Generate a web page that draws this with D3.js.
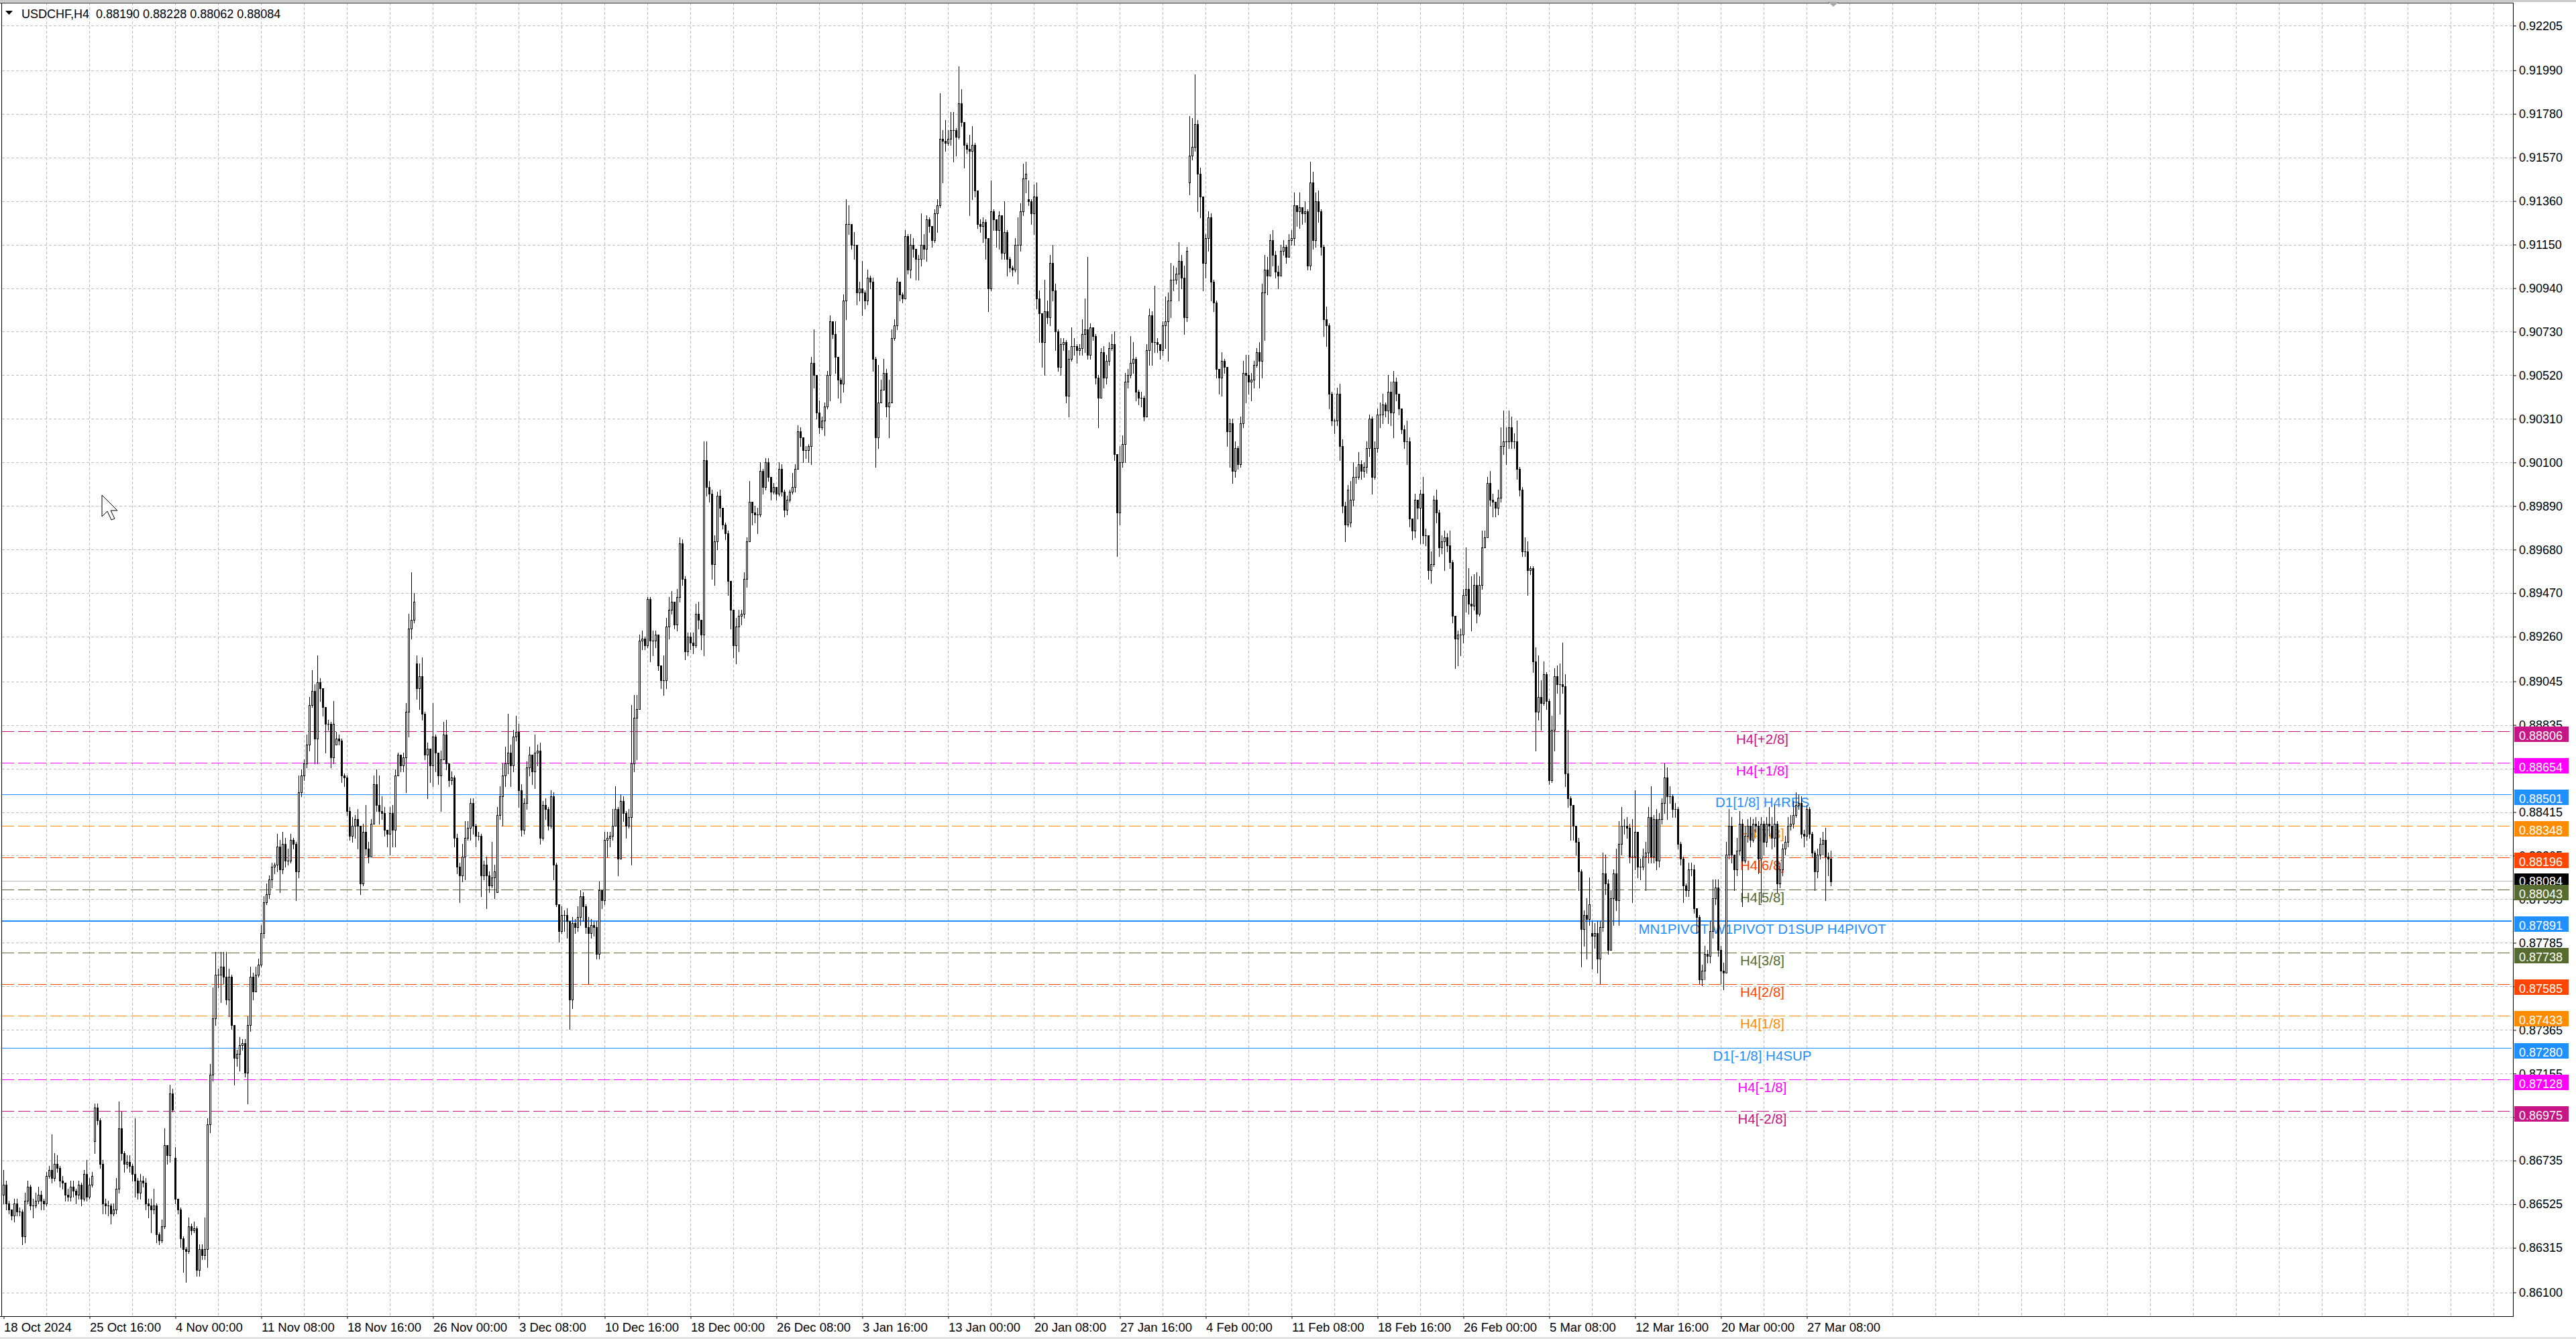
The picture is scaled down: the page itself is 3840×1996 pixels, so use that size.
<!DOCTYPE html>
<html>
<head>
<meta charset="utf-8">
<script src="https://cdn.jsdelivr.net/npm/d3@7/dist/d3.min.js"></script>
<style>
  html, body { margin: 0; padding: 0; background: #fff; }
  svg { display: block; }
</style>
</head>
<body>
<script>
// USDCHF H4 candles. Each bar is [high, low, close] in pips above BASE.
// Open = previous close, except the bars listed in gapOpens.
const BASE = 0.86, PIP = 0.0001;

const oct18 = [
  [69,53,62],[64,50,53],[54,48,50],[50,45,47],[55,44,53],[55,47,49],[51,47,49],[50,33,37],
  [58,34,54],[64,53,61],[62,50,52],[55,46,52],[58,51,54],[61,53,57],[59,50,54],[55,50,53],
  [68,52,66],[71,65,69],[86,63,65],[77,64,72],[76,68,70],[71,61,64],[66,60,63],[63,54,57],
  [60,54,56],[64,54,61],[64,56,59],[60,53,57],[64,55,62],[63,52,55],[69,54,67],[74,54,56]];
const oct25 = [
  [65,55,62],[68,61,66],[101,77,99],[101,91,93],[94,70,72],[74,48,53],[55,48,52],[54,47,52],
  [53,43,48],[53,47,50],[65,48,60],[102,58,89],[97,74,77],[78,68,72],[76,70,73],[76,68,71],
  [72,64,67],[94,56,64],[65,55,58],[67,55,64],[66,61,63],[65,50,53],[55,46,52],[55,39,50],
  [60,48,52],[53,34,38],[39,33,35],[45,34,42],[89,41,81],[81,72,76],[110,73,106],[108,97,98]];
const nov04 = [
  [80,53,55],[55,48,50],[51,32,36],[37,20,31],[32,15,30],[46,29,42],[43,38,40],[44,39,41],
  [42,18,21],[33,18,31],[33,26,28],[46,26,31],[94,22,91],[120,87,115],[157,112,142],[174,139,163],
  [166,157,163],[174,150,167],[174,159,162],[174,149,151],[166,143,162],[163,137,139],[139,110,123],[127,119,125],
  [133,117,129],[132,127,130],[132,114,116],[143,101,139],[167,136,162],[164,151,155],[167,159,163],[171,162,168]];
const nov11 = [
  [187,167,183],[201,181,198],[207,197,202],[211,200,209],[217,205,215],[217,212,216],[231,213,225],[228,203,214],
  [232,212,226],[229,215,218],[224,216,218],[231,217,228],[229,224,226],[227,199,213],[259,210,251],[262,249,259],
  [267,257,265],[279,263,274],[297,271,293],[310,292,300],[303,265,277],[317,265,304],[306,295,301],[301,288,292],
  [292,270,284],[286,281,284],[285,263,268],[295,265,284],[280,274,277],[279,274,276],[277,256,259],[260,254,258]];
const nov18 = [
  [259,240,242],[244,228,230],[239,227,235],[240,229,238],[243,224,235],[235,202,207],[236,206,232],[245,221,224],
  [227,217,220],[238,225,236],[259,236,255],[262,242,245],[259,236,242],[249,238,241],[244,230,233],[233,225,231],
  [244,221,241],[245,225,233],[262,225,259],[270,259,269],[269,261,264],[270,261,268],[294,251,290],[337,278,330],
  [357,325,334],[347,333,343],[317,296,301],[313,291,307],[316,286,289],[290,267,269],[275,248,272],[271,256,264]];
const nov26 = [
  [294,254,278],[279,261,270],[269,255,259],[271,242,267],[285,267,279],[286,262,265],[265,254,257],[261,255,258],
  [259,225,229],[231,212,215],[217,198,211],[226,208,220],[237,209,229],[237,228,234],[248,228,246],[248,231,235],
  [236,225,230],[232,228,230],[231,201,211],[218,209,216],[220,195,211],[213,203,206],[227,205,210],[216,200,213],
  [244,203,240],[254,238,249],[265,235,259],[273,254,265],[289,260,270],[274,254,264],[281,261,278],[288,276,280]];
const dec03 = [
  [284,244,252],[255,230,233],[248,231,246],[266,243,263],[273,259,269],[269,255,261],[279,253,270],[274,264,271],
  [275,226,229],[247,228,245],[248,238,243],[244,233,235],[252,234,249],[251,209,216],[217,196,197],[197,179,184],
  [196,183,192],[194,184,192],[195,181,189],[189,137,151],[191,147,188],[190,183,186],[196,184,191],[204,187,201],
  [203,189,196],[197,183,186],[191,159,183],[190,181,187],[189,182,186],[189,171,173],[208,171,204],[204,195,199]];
const dec10 = [
  [232,197,228],[232,220,229],[232,225,230],[243,228,235],[254,237,243],[244,211,219],[250,219,247],[249,237,241],
  [242,229,235],[243,234,239],[293,216,265],[298,261,287],[298,267,291],[327,291,324],[329,320,325],[326,320,322],
  [345,321,344],[345,314,324],[329,317,324],[329,321,327],[326,310,312],[312,301,305],[317,298,305],[335,301,331],
  [345,325,339],[348,337,343],[340,330,332],[349,329,345],[374,343,371],[373,351,354],[355,315,319],[328,317,326]];
const dec18 = [
  [328,320,323],[328,318,322],[342,321,337],[343,330,334],[332,320,327],[420,317,411],[420,394,398],[401,391,395],
  [397,354,361],[375,351,372],[396,368,394],[397,384,388],[385,378,380],[381,373,376],[377,346,353],[353,330,339],
  [339,316,322],[335,313,331],[339,319,336],[339,332,337],[357,335,354],[374,350,372],[401,372,391],[391,380,386],
  [389,381,385],[388,376,385],[410,384,406],[407,395,398],[412,397,410],[412,401,403],[399,392,396],[400,395,398]];
const dec26 = [
  [398,392,395],[410,394,407],[409,394,396],[397,384,387],[394,385,392],[397,391,396],[405,395,398],[409,396,407],
  [428,407,425],[427,418,422],[419,410,416],[418,412,416],[419,410,418],[461,409,458],[474,446,452],[451,431,434],
  [440,424,427],[432,426,430],[439,423,437],[454,436,452],[481,440,478],[478,470,472],[478,453,461],[461,441,450],
  [451,439,448],[491,444,488],[537,479,525],[534,520,525],[524,513,515],[521,508,515],[515,486,492],[497,488,494]];
const jan03 = [
  [507,481,492],[493,484,488],[503,486,499],[500,494,497],[499,454,460],[461,408,422],[457,417,439],[450,439,445],
  [460,445,453],[455,432,437],[450,422,439],[474,439,470],[479,469,476],[499,474,497],[497,488,491],[492,487,489],
  [522,489,519],[520,501,503],[520,499,515],[518,509,513],[512,498,508],[510,498,508],[530,505,515],[520,508,513],
  [529,507,527],[528,521,524],[521,514,517],[532,516,530],[537,521,534],[588,533,566],[570,545,565],[575,560,564]];
const jan13 = [
  [570,563,566],[579,563,570],[579,555,570],[571,558,567],[601,566,583],[590,572,574],[570,552,563],[564,559,561],
  [568,529,560],[572,537,563],[564,538,541],[541,523,525],[527,521,524],[528,516,526],[527,508,518],[518,483,494],
  [546,493,531],[532,522,527],[527,514,522],[531,513,529],[529,508,511],[536,508,521],[522,500,508],[509,502,504],
  [505,500,503],[518,502,515],[528,496,515],[535,512,531],[554,529,547],[555,540,549],[546,534,536],[537,525,530]];
const jan20 = [
  [544,520,538],[545,484,489],[493,468,482],[482,456,468],[498,452,483],[488,477,480],[510,476,506],[515,488,493],
  [496,464,473],[474,454,456],[470,452,467],[470,464,468],[469,439,442],[464,432,460],[475,459,466],[470,462,466],
  [467,458,464],[467,462,465],[479,462,472],[489,463,474],[509,460,462],[477,460,475],[475,469,471],[472,448,451],
  [452,427,441],[465,441,463],[466,446,451],[462,448,459],[468,457,465],[472,464,467],[473,411,414],[414,365,386]];
const jan27 = [
  [418,380,410],[423,408,419],[453,410,449],[455,446,452],[471,451,458],[468,453,460],[461,440,444],[445,438,441],
  [444,437,441],[442,430,432],[467,432,464],[484,457,481],[483,457,468],[495,463,468],[470,463,467],[467,460,464],
  [478,462,476],[490,465,478],[492,459,488],[506,480,498],[505,493,498],[504,496,501],[516,488,507],[510,494,499],
  [505,472,480],[514,478,512],[577,539,558],[576,556,562],[597,560,573],[575,531,549],[552,528,538],[538,493,506]];
const feb04 = [
  [520,499,518],[531,512,528],[530,488,497],[498,483,487],[488,451,455],[455,443,451],[463,442,459],[460,453,456],
  [456,418,425],[431,408,429],[431,400,406],[420,403,417],[418,407,409],[432,408,429],[459,427,453],[462,439,452],
  [462,443,449],[453,440,450],[459,446,457],[465,456,463],[468,446,459],[496,451,492],[510,469,503],[509,491,500],
  [520,502,517],[522,505,510],[512,499,502],[505,494,500],[515,500,512],[517,510,514],[515,506,509],[520,512,517]];
const feb11 = [
  [522,515,518],[540,515,534],[534,524,531],[540,523,533],[533,525,530],[536,526,531],[532,503,505],[555,503,545],
  [550,513,517],[540,514,536],[541,526,531],[532,510,514],[515,471,479],[485,466,476],[477,436,443],[444,428,430],
  [431,424,430],[446,428,443],[448,411,418],[421,386,389],[391,372,380],[399,379,397],[401,379,392],[410,389,403],
  [408,400,403],[415,402,409],[411,402,406],[410,403,408],[420,405,417],[433,413,431],[432,395,403],[420,402,417]];
const feb18 = [
  [436,415,433],[439,427,433],[443,429,438],[439,432,435],[452,429,444],[449,428,434],[454,422,449],[451,440,443],
  [443,433,436],[436,424,426],[428,417,420],[430,409,420],[422,379,383],[383,373,377],[395,374,392],[392,383,388],
  [397,371,395],[403,371,375],[378,370,375],[373,354,358],[367,352,361],[394,360,392],[397,381,386],[387,365,369],
  [375,366,372],[377,358,374],[376,367,370],[377,359,362],[363,333,336],[336,311,325],[329,312,327],[330,317,327]];
const feb26 = [
  [349,323,346],[369,338,349],[359,337,342],[355,329,341],[356,339,351],[357,333,337],[355,336,351],[377,349,369],
  [377,369,374],[403,374,400],[406,389,392],[395,384,391],[391,384,388],[397,385,393],[427,391,418],[435,414,420],
  [427,409,420],[435,417,427],[432,417,420],[424,417,420],[430,402,407],[408,394,397],[398,365,367],[374,365,367],
  [372,346,358],[360,356,359],[360,309,314],[321,271,290],[317,286,297],[305,281,294],[314,293,308],[309,291,295]];
const mar05 = [
  [296,255,257],[288,256,281],[311,271,307],[312,299,303],[313,289,303],[323,299,302],[308,254,260],[281,244,248],
  [249,228,245],[245,228,235],[235,221,227],[229,204,213],[214,167,185],[194,177,192],[200,171,190],[210,187,197],
  [189,166,182],[188,176,183],[189,164,171],[189,159,186],[222,184,212],[221,202,207],[209,173,175],[204,175,200],
  [214,187,212],[224,194,199],[237,187,226],[244,221,235],[238,231,235],[239,229,234],[236,217,220],[238,198,220]];
const mar12 = [
  [252,214,232],[230,210,215],[219,209,215],[224,214,220],[227,204,222],[244,217,239],[254,217,220],[240,217,238],
  [243,214,218],[241,215,238],[248,236,246],[265,241,258],[263,238,249],[254,246,249],[250,239,243],[246,239,243],
  [244,224,226],[227,216,219],[220,198,206],[207,201,204],[217,201,214],[217,211,214],[216,193,195],[195,183,191],
  [192,159,161],[168,158,165],[177,161,173],[175,169,172],[189,169,184],[209,181,200],[209,197,205],[209,172,175]];
const mar20 = [
  [177,159,165],[169,156,164],[227,164,221],[243,219,235],[239,217,221],[221,204,214],[229,211,223],[242,221,236],
  [238,196,218],[235,217,230],[238,227,235],[239,225,228],[238,227,236],[239,232,235],[237,212,219],[239,198,236],
  [237,221,227],[239,225,236],[244,230,235],[239,224,229],[245,225,236],[237,203,207],[217,205,214],[226,211,224],
  [230,221,227],[239,225,235],[240,233,236],[247,234,240],[251,239,245],[250,243,246],[249,229,231],[233,225,230]];
const mar27 = [
  [245,228,243],[244,229,231],[232,220,222],[223,204,213],[224,210,221],[229,219,226],[232,221,228],[234,199,220],
  [222,211,219],[223,206,208]];

// bars whose open is not the previous close (first bar, weekend gaps): [bar, open pips]
const gapOpens = [[0,57],[34,83],[64,75],[124,274],[154,313],[184,203],[382,537],[442,545],[502,381],[592,183]];

const timeLabels = ["18 Oct 2024","25 Oct 16:00","4 Nov 00:00","11 Nov 08:00","18 Nov 16:00","26 Nov 00:00",
  "3 Dec 08:00","10 Dec 16:00","18 Dec 00:00","26 Dec 08:00","3 Jan 16:00","13 Jan 00:00","20 Jan 08:00",
  "27 Jan 16:00","4 Feb 00:00","11 Feb 08:00","18 Feb 16:00","26 Feb 00:00","5 Mar 08:00","12 Mar 16:00",
  "20 Mar 00:00","27 Mar 08:00"];

const priceTicks = ["0.92205","0.91990","0.91780","0.91570","0.91360","0.91150","0.90940","0.90730","0.90520",
  "0.90310","0.90100","0.89890","0.89680","0.89470","0.89260","0.89045","0.88835","0.88625","0.88415","0.88205",
  "0.87995","0.87785","0.87575","0.87365","0.87155","0.86945","0.86735","0.86525","0.86315","0.86100"];

const levelPrices = [0.88806,0.88654,0.88501,0.88348,0.88196,0.88043,0.87891,0.87738,0.87585,0.87433,0.87280,0.87128,0.86975];
const levelTexts = ["H4[+2/8]","H4[+1/8]","D1[1/8] H4RES","H4[7/8]","H4[6/8]","H4[5/8]",
  "MN1PIVOT W1PIVOT D1SUP H4PIVOT","H4[3/8]","H4[2/8]","H4[1/8]","D1[-1/8] H4SUP","H4[-1/8]","H4[-2/8]"];
const bidPrice = 0.88084;
const headerText = "USDCHF,H4  0.88190 0.88228 0.88062 0.88084";

// styles of the level lines
const levelColors = ["#C71585","#FF00FF","#1E90FF","#FF8C00","#FF4500","#556B2F","#1E90FF",
  "#556B2F","#FF4500","#FF8C00","#1E90FF","#FF00FF","#C71585"];
const levelDashed = [1,1,0,1,1,1,0,1,1,1,0,1,1];
const levelWidths = [1,1,1,1,1,1,2,1,1,1,1,1,1];

// ---------------------------------------------------------------
const W = 3840, H = 1996;
const plotR = 3746, plotB = 1962, plotT = 4;
const FONT = "'Liberation Sans', Arial, sans-serif";

const rows = [].concat(oct18, oct25, nov04, nov11, nov18, nov26, dec03, dec10, dec18, dec26, jan03,
  jan13, jan20, jan27, feb04, feb11, feb18, feb26, mar05, mar12, mar20, mar27);
const gapMap = new Map(gapOpens);
const toPrice = v => BASE + v * PIP;
const bars = rows.map((r, i) => {
  const o = toPrice(gapMap.has(i) ? gapMap.get(i) : rows[i - 1][2]);
  const c = toPrice(r[2]);
  return { i, o, c, h: Math.max(toPrice(r[0]), o, c), l: Math.min(toPrice(r[1]), o, c) };
});

const x = d3.scaleLinear().domain([0, bars.length - 1]).range([5.5, 5.5 + 4 * (bars.length - 1)]);
const y = d3.scaleLinear().domain([0.86, 0.9231]).range([1957.5, 5.8]);
const crisp = v => Math.round(v) + 0.5;

const svg = d3.select("body").append("svg")
  .attr("width", W).attr("height", H).attr("viewBox", `0 0 ${W} ${H}`);
svg.append("rect").attr("width", W).attr("height", H).attr("fill", "#fff");
svg.append("rect").attr("width", W).attr("height", 3).attr("fill", "#c8c8c8");
svg.append("rect").attr("y", 1993).attr("width", W).attr("height", 3).attr("fill", "#e4e4e4");

// grid
const grid = svg.append("g").attr("stroke", "#c0c0c0").attr("stroke-dasharray", "4,3")
  .attr("shape-rendering", "crispEdges");
grid.selectAll("line.v").data(d3.range(16, 1000, 16).filter(b => x(b) < plotR - 4)).join("line")
  .attr("class", "v").attr("x1", d => x(d)).attr("x2", d => x(d)).attr("y1", plotT).attr("y2", plotB);
grid.selectAll("line.h").data(priceTicks).join("line")
  .attr("class", "h").attr("x1", 3).attr("x2", plotR)
  .attr("y1", d => crisp(y(+d))).attr("y2", d => crisp(y(+d)));

// level lines
const lv = svg.append("g").attr("shape-rendering", "crispEdges");
lv.selectAll("line").data(levelPrices).join("line")
  .attr("x1", 3).attr("x2", plotR - 2)
  .attr("y1", (d, i) => levelWidths[i] === 2 ? Math.round(y(d)) : crisp(y(d)))
  .attr("y2", (d, i) => levelWidths[i] === 2 ? Math.round(y(d)) : crisp(y(d)))
  .attr("stroke", (d, i) => levelColors[i])
  .attr("stroke-width", (d, i) => levelWidths[i])
  .attr("stroke-dasharray", (d, i) => levelDashed[i] ? "18,6" : null);
svg.append("line").attr("x1", 3).attr("x2", plotR).attr("y1", crisp(y(bidPrice))).attr("y2", crisp(y(bidPrice)))
  .attr("stroke", "#b8b8b8").attr("shape-rendering", "crispEdges");

// level texts
svg.append("g").selectAll("text").data(levelPrices).join("text")
  .attr("x", 2627).attr("y", d => Math.round(y(d)) + 19)
  .attr("text-anchor", "middle").attr("font-family", FONT).attr("font-size", "20.5px")
  .attr("fill", (d, i) => levelColors[i]).text((d, i) => levelTexts[i]);

// candles
const cg = svg.append("g").attr("shape-rendering", "crispEdges");
cg.selectAll("line").data(bars).join("line")
  .attr("x1", d => x(d.i)).attr("x2", d => x(d.i))
  .attr("y1", d => Math.round(y(d.h))).attr("y2", d => Math.round(y(d.l)) + 1)
  .attr("stroke", "#000");
cg.selectAll("rect").data(bars).join("rect")
  .each(function (d) {
    const top = Math.round(y(Math.max(d.o, d.c))), bot = Math.round(y(Math.min(d.o, d.c)));
    const r = d3.select(this);
    if (d.c >= d.o && bot - top >= 2) {
      r.attr("x", x(d.i) - 1).attr("y", top + 0.5).attr("width", 2).attr("height", bot - top)
        .attr("fill", "#fff").attr("stroke", "#000");
    } else {
      r.attr("x", x(d.i) - 1.5).attr("y", top).attr("width", 3).attr("height", Math.max(1, bot - top + 1))
        .attr("fill", "#000");
    }
  });

// right price axis
const yAxis = d3.axisRight(y)
  .tickValues(priceTicks.map(Number))
  .tickFormat((d, i) => priceTicks[i])
  .tickSizeInner(5).tickSizeOuter(0).tickPadding(4);
const ya = svg.append("g").attr("transform", `translate(${plotR},0)`).call(yAxis);
ya.attr("font-family", FONT).attr("font-size", "18px");
ya.selectAll("text").attr("fill", "#000");
ya.selectAll("line, path").attr("stroke", "#000");

// price boxes
const boxes = svg.append("g").attr("font-family", FONT).attr("font-size", "18px");
const by = Math.round(y(bidPrice));
boxes.append("rect").attr("x", plotR + 2).attr("y", by - 11).attr("width", 81).attr("height", 23).attr("fill", "#000");
boxes.append("text").attr("x", plotR + 9).attr("y", by + 6.5).attr("fill", "#fff").text(bidPrice.toFixed(5));
levelPrices.forEach((p, i) => {
  const ly = Math.round(y(p));
  boxes.append("rect").attr("x", plotR + 2).attr("y", ly - 7).attr("width", 81).attr("height", 23)
    .attr("fill", levelColors[i]);
  boxes.append("text").attr("x", plotR + 9).attr("y", ly + 13).attr("fill", "#fff").text(p.toFixed(5));
});

// bottom time axis
const xAxis = d3.axisBottom(x)
  .tickValues(timeLabels.map((t, k) => k * 32))
  .tickFormat((d, k) => timeLabels[k])
  .tickSizeInner(4).tickSizeOuter(0).tickPadding(6);
const xa = svg.append("g").attr("transform", `translate(0,${plotB})`).call(xAxis);
xa.select(".domain").remove();
xa.attr("font-family", FONT).attr("font-size", "18.5px");
xa.selectAll("text").attr("text-anchor", "start").attr("fill", "#000");
xa.selectAll("line").attr("stroke", "#000");

// frame
const frame = svg.append("g").attr("stroke", "#000").attr("shape-rendering", "crispEdges");
frame.append("line").attr("x1", 0).attr("x2", plotR + 1).attr("y1", plotT + 0.5).attr("y2", plotT + 0.5);
frame.append("line").attr("x1", 2.5).attr("x2", 2.5).attr("y1", plotT).attr("y2", plotB);
frame.append("line").attr("x1", 0).attr("x2", plotR + 1).attr("y1", plotB + 0.5).attr("y2", plotB + 0.5);
frame.append("line").attr("x1", plotR + 0.5).attr("x2", plotR + 0.5).attr("y1", plotT).attr("y2", plotB);

// header
svg.append("path").attr("d", "M8,16L19,16L13.5,22Z").attr("fill", "#000");
svg.append("text").attr("x", 32).attr("y", 27).attr("font-family", FONT).attr("font-size", "18px")
  .attr("fill", "#000").attr("xml:space", "preserve").style("white-space", "pre").text(headerText);

// chart shift marker
svg.append("path").attr("d", "M2725,3L2741,3L2733,10Z").attr("fill", "#a8a8a8");

// mouse pointer
svg.append("path")
  .attr("d", "M0,0L0,16L4,12L7,18.5L9.5,17.5L6.5,11.5L11.5,11.5Z")
  .attr("transform", "translate(152,738) scale(2)")
  .attr("fill", "#fff").attr("stroke", "#000").attr("stroke-width", 0.5);
</script>
</body>
</html>
